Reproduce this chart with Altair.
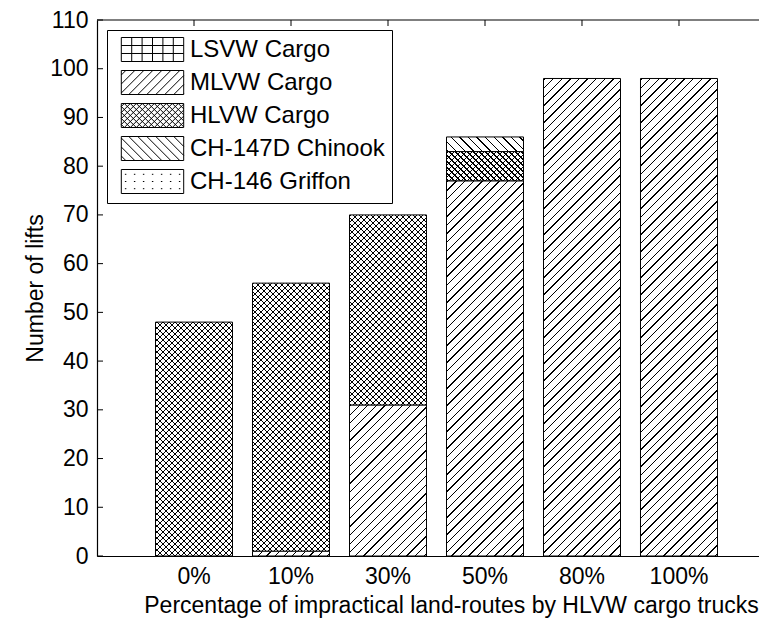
import altair as alt
import pandas as pd

# ---- data ----
categories = ["0%", "10%", "30%", "50%", "80%", "100%"]
series = ["LSVW Cargo", "MLVW Cargo", "HLVW Cargo", "CH-147D Chinook", "CH-146 Griffon"]
lsvw = [0, 0, 0, 0, 0, 0]
mlvw = [0, 1, 31, 77, 98, 98]
hlvw = [48, 55, 39, 6, 0, 0]
chinook = [0, 0, 0, 3, 0, 0]
griffon = [0, 0, 0, 0, 0, 0]
y_ticks = [0, 10, 20, 30, 40, 50, 60, 70, 80, 90, 100, 110]

# ---- layout / style ----
FONT = "Liberation Sans"
W, H = 662, 536
Y_MAX = 110
P_IN, P_OUT, ALIGN = 0.2062, 0.5155, 0.585
hatch_kind = {  # pattern used for each series
    "LSVW Cargo": "grid",
    "MLVW Cargo": "fwd",
    "HLVW Cargo": "cross",
    "CH-147D Chinook": "back",
    "CH-146 Griffon": "dots",
}

all_vals = [lsvw, mlvw, hlvw, chinook, griffon]
rows = []
for si, (name, vals) in enumerate(zip(series, all_vals)):
    for c, v in zip(categories, vals):
        rows.append({"cat": c, "series": name, "rank": si, "value": v})
df = pd.DataFrame(rows)
tick_df = pd.DataFrame({"v": y_ticks})
cat_df = pd.DataFrame({"cat": categories})
one_df = pd.DataFrame({"a": [0]})

x_scale = alt.Scale(domain=categories, paddingInner=P_IN, paddingOuter=P_OUT, align=ALIGN)
y_scale = alt.Scale(domain=[0, Y_MAX], nice=False, zero=True)

x_axis = alt.Axis(
    title="Percentage of impractical land-routes by HLVW cargo trucks",
    labelAngle=0, ticks=False, labelPadding=9, titlePadding=6, titleX=354,
)
y_axis = alt.Axis(
    title="Number of lifts", values=y_ticks, ticks=False, grid=False,
    labelPadding=9, titlePadding=2,
)
X = alt.X("cat:N", scale=x_scale, axis=x_axis)

# ---- hatch fills (linear gradients with hard stops, sized to each bar) ----
step = W / (len(categories) - P_IN + 2 * P_OUT)
bar_w = step * (1 - P_IN)


def stripe_stops(L, spacing, thick, bg, fg):
    stops = [(0.0, bg)]
    s = 1.0
    while s < L:
        a = s / L
        b = min(s + thick, L) / L
        stops += [(a, bg), (a, fg), (b, fg), (b, bg)]
        s += spacing
    stops.append((1.0, bg))
    return [{"offset": round(o, 5), "color": c} for o, c in stops]


def hatch(direction, w, h, spacing, bg):
    L = w + h
    k = L / (w * w + h * h)
    stops = stripe_stops(L, spacing, 1.35, bg, "black")
    if direction == "fwd":
        return {"gradient": "linear", "x1": 0, "y1": 0,
                "x2": round(k * w, 6), "y2": round(k * h, 6), "stops": stops}
    return {"gradient": "linear", "x1": 0, "y1": 1,
            "x2": round(k * w, 6), "y2": round(1 - k * h, 6), "stops": stops}


stacked = alt.Chart(df).transform_stack(
    stack="value", groupby=["cat"], as_=["y0", "y1"],
    sort=[alt.SortField("rank", order="ascending")],
)

seg_layers = []
for si, (name, vals) in enumerate(zip(series, all_vals)):
    kind = hatch_kind[name]
    for c, v in zip(categories, vals):
        if v <= 0:
            continue
        h = v * H / Y_MAX
        base = stacked.transform_filter(
            (alt.datum.cat == c) & (alt.datum.series == name)
        )
        enc = dict(x=X, y=alt.Y("y0:Q", scale=y_scale, axis=y_axis), y2="y1:Q")
        if kind == "cross":
            seg_layers.append(base.mark_bar(
                fill=hatch("fwd", bar_w, h, 6.0, "white"), strokeWidth=0
            ).encode(**enc))
            seg_layers.append(base.mark_bar(
                fill=hatch("back", bar_w, h, 6.0, "rgba(0,0,0,0)"),
                stroke="black", strokeWidth=1,
            ).encode(**enc))
        else:
            seg_layers.append(base.mark_bar(
                fill=hatch(kind, bar_w, h, 8.6, "white"),
                stroke="black", strokeWidth=1,
            ).encode(**enc))


# ---- legend swatches: custom symbol paths (unit = 12 px) ----
HW, HH = 2.6, 1.0


def r(v):
    return round(v, 3)


def diag_lines(sp, sign):
    parts = []
    c = -HW - HH + sp / 2
    while c < HW + HH:
        x1 = max(-HW, c - HH)
        x2 = min(HW, c + HH)
        if x2 > x1:
            if sign > 0:   # x + y = c  ("/")
                parts.append(f"M{r(x1)},{r(c - x1)}L{r(x2)},{r(c - x2)}")
            else:          # x - y = c  ("\")
                parts.append(f"M{r(x1)},{r(x1 - c)}L{r(x2)},{r(x2 - c)}")
        c += sp
    return "".join(parts)


def swatch(kind):
    d = f"M{-HW},{-HH}H{HW}V{HH}H{-HW}Z"
    if kind == "grid":
        for i in range(1, 6):
            x = -HW + i * 2 * HW / 6
            d += f"M{r(x)},{-HH}V{HH}"
        for j in range(1, 3):
            y = -HH + j * 2 * HH / 3
            d += f"M{-HW},{r(y)}H{HW}"
    elif kind == "fwd":
        d += diag_lines(0.75, 1)
    elif kind == "back":
        d += diag_lines(0.75, -1)
    elif kind == "cross":
        d += diag_lines(0.5, 1) + diag_lines(0.5, -1)
    elif kind == "dots":
        for j in range(3):
            y = -HH + 0.4 + j * 0.6
            for i in range(7):
                x = -HW + 0.3 + i * 0.75
                d += f"M{r(x)},{r(y)}h0.12"
    return d


paths = [swatch(hatch_kind[s]) for s in series]

legend = alt.Legend(
    title=None, orient="none", legendX=10, legendY=10,
    symbolSize=576, symbolStrokeColor="black", symbolStrokeWidth=1,
    symbolFillColor="white", symbolOpacity=1,
    symbolOffset=26, labelOffset=25,
    labelFontSize=24, labelFont=FONT, labelColor="black", labelLimit=400,
    rowPadding=4, padding=7, strokeColor="black", fillColor="white",
)

legend_layer = alt.Chart(df).mark_point(opacity=0, filled=False, color="black").encode(
    x=X,
    y=alt.Y("value:Q", scale=y_scale, axis=y_axis),
    shape=alt.Shape("series:N", scale=alt.Scale(domain=series, range=paths), legend=legend),
)

ytick_marks = alt.Chart(tick_df).mark_rule(color="black", strokeWidth=1).encode(
    y=alt.Y("v:Q", scale=y_scale, axis=y_axis),
    x=alt.value(0), x2=alt.value(6),
)

top_ticks = alt.Chart(cat_df).mark_rule(color="black", strokeWidth=1).encode(
    x=X, y=alt.value(0), y2=alt.value(6),
)

top_line = alt.Chart(one_df).mark_rule(color="black", strokeWidth=1.2).encode(
    x=alt.value(0), x2=alt.value(W), y=alt.value(0),
)

chart = alt.layer(*seg_layers, legend_layer, ytick_marks, top_ticks, top_line).properties(
    width=W, height=H,
    padding={"left": 89, "top": 12, "right": 0, "bottom": 64},
    autosize=alt.AutoSizeParams(type="none"),
).configure(font=FONT).configure_axis(
    labelFont=FONT, titleFont=FONT, labelFontSize=23, titleFontSize=23,
    titleFontWeight="normal", labelColor="black", titleColor="black",
    domainColor="black", domainWidth=1.2,
).configure_view(stroke=None)

chart.save("out.html", embed_options={"renderer": "svg", "actions": False})
